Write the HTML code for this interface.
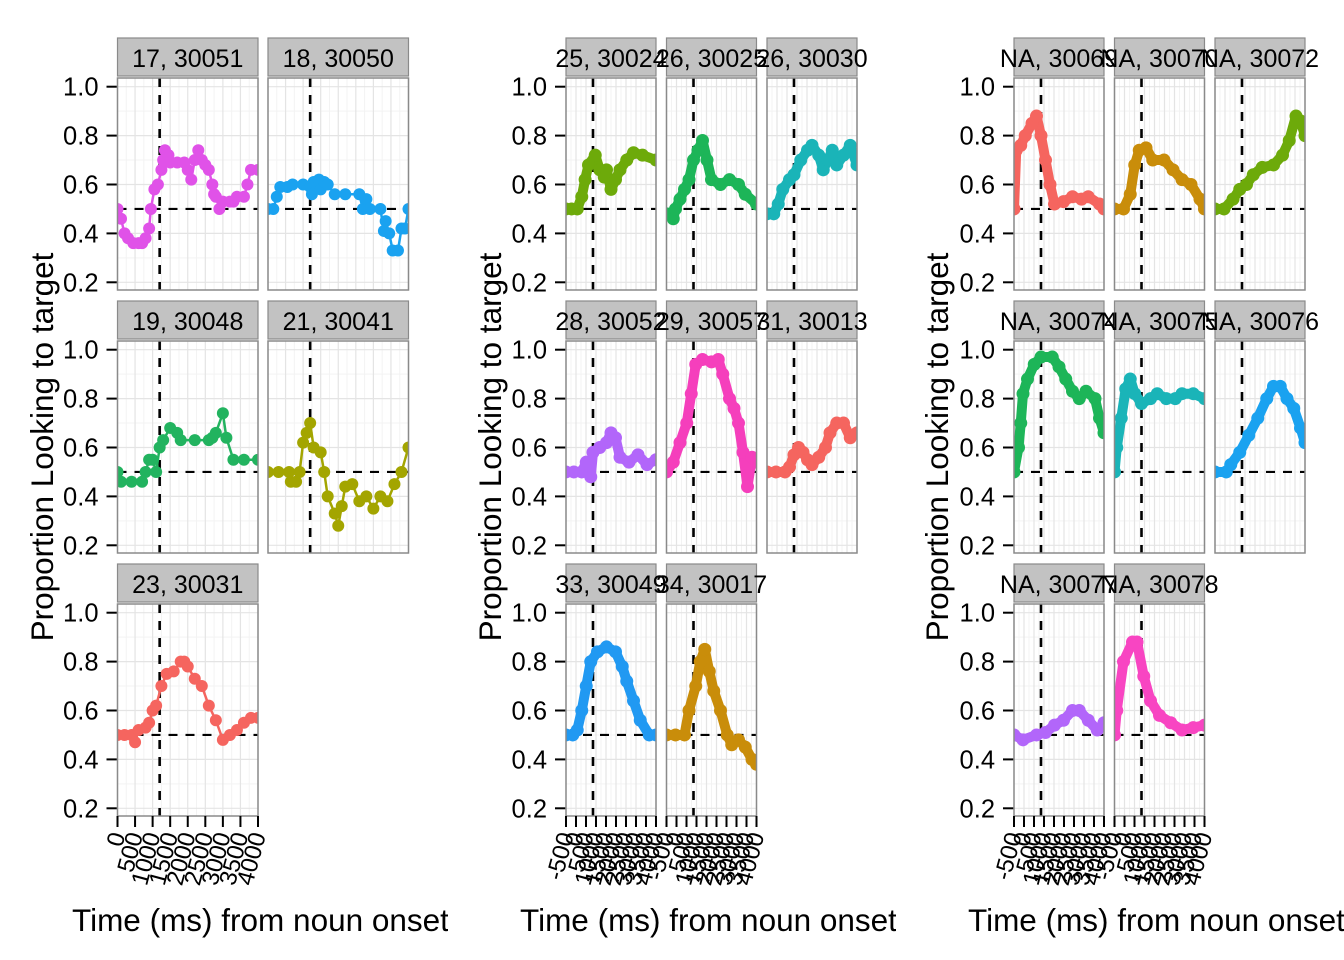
<!DOCTYPE html>
<html><head><meta charset="utf-8">
<style>
html,body{margin:0;padding:0;background:#fff;}
svg{display:block;font-family:"Liberation Sans",Arial,sans-serif;}
</style></head>
<body>
<svg id="chart" width="1344" height="960" viewBox="0 0 1344 960" xmlns="http://www.w3.org/2000/svg"></svg>
<script>
// ---- data (time in ms, proportion looking to target) ----
const panelLabels = ["17, 30051","18, 30050","19, 30048","21, 30041","23, 30031",
 "25, 30024","26, 30025","26, 30030","28, 30052","29, 30057","31, 30013","33, 30049","34, 30017",
 "NA, 30069","NA, 30070","NA, 30072","NA, 30074","NA, 30075","NA, 30076","NA, 30077","NA, 30078"];
const t01=[0,100,200,300,450,600,700,800,900,950,1050,1150,1250,1300,1350,1450,1500,1700,1900,2000,2100,2200,2300,2400,2500,2600,2700,2750,2800,2900,3000,3200,3300,3400,3600,3700,3800,4000];
const p01=[0.5,0.46,0.4,0.38,0.36,0.36,0.36,0.38,0.42,0.5,0.58,0.6,0.66,0.7,0.74,0.72,0.69,0.69,0.69,0.66,0.62,0.7,0.74,0.7,0.68,0.66,0.6,0.56,0.55,0.5,0.53,0.53,0.53,0.55,0.55,0.6,0.66,0.66];
const t02=[0,150,250,350,550,700,1000,1200,1250,1300,1450,1500,1600,1700,1900,2200,2600,2700,2800,2900,3200,3300,3350,3450,3550,3700,3800,3900,4000];
const p02=[0.5,0.5,0.55,0.59,0.59,0.6,0.6,0.59,0.56,0.61,0.62,0.58,0.61,0.6,0.56,0.56,0.56,0.5,0.54,0.5,0.5,0.41,0.45,0.4,0.33,0.33,0.42,0.42,0.5];
const t03=[0,100,400,700,800,900,1000,1100,1200,1300,1500,1700,1800,2200,2600,2700,2800,3000,3100,3300,3600,4000];
const p03=[0.5,0.46,0.46,0.46,0.5,0.55,0.55,0.5,0.6,0.63,0.68,0.66,0.63,0.63,0.63,0.64,0.66,0.74,0.64,0.55,0.55,0.55];
const t04=[0,300,600,650,800,900,1000,1100,1200,1300,1500,1600,1700,1900,2000,2100,2200,2400,2600,2800,3000,3200,3400,3600,3800,4000];
const p04=[0.5,0.5,0.5,0.46,0.46,0.5,0.62,0.66,0.7,0.6,0.58,0.5,0.4,0.33,0.28,0.36,0.44,0.45,0.38,0.4,0.35,0.4,0.38,0.45,0.5,0.6];
const t05=[0,200,400,500,600,800,900,1000,1100,1250,1400,1600,1800,1900,2000,2200,2400,2600,2800,3000,3200,3400,3600,3800,4000];
const p05=[0.5,0.5,0.5,0.47,0.52,0.53,0.55,0.6,0.62,0.7,0.75,0.76,0.8,0.8,0.78,0.73,0.7,0.62,0.56,0.48,0.5,0.52,0.55,0.57,0.57];
const t06=[0,250,500,700,850,1000,1300,1500,1700,1800,2000,2200,2400,2700,3000,3400,4000];
const p06=[0.5,0.5,0.5,0.55,0.62,0.68,0.72,0.66,0.63,0.66,0.58,0.62,0.66,0.7,0.73,0.72,0.7];
const t07=[0,300,400,600,800,1000,1200,1400,1600,1800,2000,2400,2800,3200,3500,4000];
const p07=[0.48,0.46,0.5,0.54,0.58,0.62,0.7,0.74,0.78,0.7,0.62,0.6,0.62,0.6,0.56,0.52];
const t08=[0,300,500,700,1000,1200,1500,1800,2000,2300,2500,2700,2900,3100,3400,3700,4000];
const p08=[0.48,0.48,0.52,0.58,0.62,0.64,0.7,0.74,0.76,0.72,0.66,0.7,0.74,0.68,0.72,0.76,0.68];
const t09=[0,350,700,900,1100,1200,1500,1800,2000,2200,2400,2800,3200,3600,4000];
const p09=[0.5,0.5,0.5,0.54,0.48,0.58,0.6,0.62,0.66,0.64,0.56,0.54,0.57,0.53,0.55];
const t10=[0,300,600,900,1100,1300,1600,2000,2300,2500,2800,3000,3200,3400,3600,3800,4000];
const p10=[0.5,0.54,0.62,0.7,0.82,0.94,0.96,0.95,0.96,0.9,0.8,0.76,0.7,0.58,0.44,0.56,0.54];
const t11=[0,400,800,1000,1200,1400,1600,1800,2000,2300,2600,2800,3100,3400,3700,4000];
const p11=[0.5,0.5,0.5,0.52,0.57,0.6,0.58,0.55,0.53,0.56,0.6,0.66,0.7,0.7,0.64,0.66];
const t12=[0,300,500,700,900,1100,1400,1800,2200,2500,2700,3000,3300,3700,4000];
const p12=[0.5,0.5,0.52,0.6,0.7,0.8,0.84,0.86,0.84,0.78,0.72,0.64,0.56,0.5,0.5];
const t13=[0,400,800,1000,1300,1500,1700,1900,2100,2400,2700,2900,3200,3500,3800,4000];
const p13=[0.5,0.5,0.5,0.6,0.7,0.8,0.85,0.76,0.68,0.6,0.5,0.46,0.48,0.45,0.4,0.38];
const t14=[0,100,300,500,800,1000,1200,1400,1600,1800,2200,2600,3000,3300,3800,4000];
const p14=[0.5,0.74,0.76,0.8,0.85,0.88,0.8,0.7,0.6,0.52,0.53,0.55,0.54,0.55,0.52,0.5];
const t15=[0,400,700,900,1100,1400,1700,2200,2600,3000,3400,3800,4000];
const p15=[0.5,0.5,0.56,0.68,0.74,0.75,0.7,0.7,0.66,0.62,0.6,0.54,0.5];
const t16=[0,400,800,1100,1400,1700,2100,2600,3000,3300,3600,3800,4000];
const p16=[0.5,0.5,0.54,0.58,0.6,0.64,0.67,0.68,0.72,0.78,0.88,0.86,0.8];
const t17=[0,200,300,400,600,900,1200,1700,2000,2300,2600,2900,3200,3600,3800,4000];
const p17=[0.5,0.6,0.7,0.82,0.88,0.94,0.97,0.97,0.93,0.88,0.83,0.8,0.83,0.8,0.72,0.66];
const t18=[0,100,300,500,700,900,1200,1600,1900,2300,2700,3000,3500,4000];
const p18=[0.5,0.6,0.72,0.84,0.88,0.82,0.78,0.8,0.82,0.8,0.8,0.82,0.82,0.8];
const t19=[0,500,700,1100,1500,1900,2300,2600,2900,3200,3500,3800,4000];
const p19=[0.5,0.5,0.53,0.58,0.65,0.72,0.8,0.85,0.85,0.8,0.76,0.68,0.62];
const t20=[0,400,1000,1400,1800,2200,2600,2900,3300,3700,4000];
const p20=[0.5,0.48,0.5,0.51,0.54,0.56,0.6,0.6,0.56,0.52,0.55];
const t21=[0,100,400,800,1000,1300,1600,2000,2500,3000,3500,4000];
const p21=[0.5,0.6,0.8,0.88,0.88,0.74,0.64,0.58,0.55,0.52,0.53,0.54];
const seriesT=[t01,t02,t03,t04,t05,t06,t07,t08,t09,t10,t11,t12,t13,t14,t15,t16,t17,t18,t19,t20,t21];
const seriesP=[p01,p02,p03,p04,p05,p06,p07,p08,p09,p10,p11,p12,p13,p14,p15,p16,p17,p18,p19,p20,p21];
const yTicks=[0.2,0.4,0.6,0.8,1.0];
const yTickLabels=["0.2","0.4","0.6","0.8","1.0"];
const xTicksG1=[0,500,1000,1500,2000,2500,3000,3500,4000];
const xTickLabelsG23=["-500","0","500","1000","1500","2000","2500","3000","3500","4000"];
const onsetRef=1200, chanceRef=0.5;

// ---- layout ----
const colors=["#E052E8","#1AA2F0","#22B35F","#A3A500","#F5655F","#6DAA0A","#1DB558","#1AB4B8","#B266FA","#F53FBC","#F5655F","#2199F2","#C98D0A",
 "#F5655F","#C98D0A","#6DAA0A","#1DB558","#1AB4B8","#1AA2F0","#B266FA","#F845C2"];
const groups=[
 {cols:[117.5,268],w:140.5,titleX:42,xTitleX:72,clip:448,panels:[[0,0,0],[1,0,1],[2,1,0],[3,1,1],[4,2,0]],dense:false},
 {cols:[566,666.5,767],w:90,titleX:490,xTitleX:520,clip:896,panels:[[5,0,0],[6,0,1],[7,0,2],[8,1,0],[9,1,1],[10,1,2],[11,2,0],[12,2,1]],dense:true},
 {cols:[1014,1114.5,1215],w:90,titleX:937,xTitleX:968,clip:1344,panels:[[13,0,0],[14,0,1],[15,0,2],[16,1,0],[17,1,1],[18,1,2],[19,2,0],[20,2,1]],dense:true}
];
const rowTop=[78,341,604], ph=212;
const svg=document.getElementById('chart');
const NS="http://www.w3.org/2000/svg";
function mk(tag,attrs,parent){const e=document.createElementNS(NS,tag);for(const k in attrs)e.setAttribute(k,attrs[k]);(parent||svg).appendChild(e);return e;}
function yScale(v,top){return top+8.7+(1.0-v)*244.5;}
function xScale(t,left,w){return left+(t/4000)*w;}

const defs=mk('defs',{});
groups.forEach((g,gi)=>{
  const cp=mk('clipPath',{id:'clipg'+gi},defs);
  mk('rect',{x:gi===0?0:groups[gi-1].clip,y:0,width:g.clip-(gi===0?0:groups[gi-1].clip),height:960},cp);
  rowTop.forEach((top,ri)=>{
    const left=g.cols[0];
    const ax=mk('g',{});
    
    
    yTicks.forEach((v,i)=>{
      const y=yScale(v,top);
      mk('line',{x1:left-11,x2:left,y1:y,y2:y,stroke:'#000','stroke-width':2},ax);
      const tx=mk('text',{x:left-19,y:y+9,'text-anchor':'end','font-size':25.5,fill:'#000'},ax);
      tx.textContent=yTickLabels[i];
      
      
    });
  });
  const yt=mk('text',{x:g.titleX+11,y:447,'text-anchor':'middle','font-size':31.5,transform:`rotate(-90 ${g.titleX+11} 447)`});
  yt.textContent='Proportion Looking to target';
  
  
  const xt=mk('text',{x:g.xTitleX,y:931,'font-size':31.5,'clip-path':`url(#clipg${gi})`});
  xt.textContent='Time (ms) from noun onset';
  
  

  g.panels.forEach(([si,ri,ci])=>{
    const left=g.cols[ci], w=g.w, top=rowTop[ri];
    const pg=mk('g',{});
    
    
    const cid='cp'+si;
    const c=mk('clipPath',{id:cid},defs);
    mk('rect',{x:left,y:top,width:w,height:ph},c);
    mk('rect',{x:left,y:top,width:w,height:ph,fill:'#fff'},pg);
    const nT = gi===0?9:10;
    for(let i=0;i<nT-1;i++){
      const xm=left+(i+0.5)*w/(nT-1);
      mk('line',{x1:xm,x2:xm,y1:top,y2:top+ph,stroke:'#f3f3f3','stroke-width':1},pg);
    }
    for(let v=0.3;v<1.05;v+=0.2){const y=yScale(v,top);mk('line',{x1:left,x2:left+w,y1:y,y2:y,stroke:'#f3f3f3','stroke-width':1},pg);}
    for(let i=0;i<nT;i++){
      const xg=left+i*w/(nT-1);
      mk('line',{x1:xg,x2:xg,y1:top,y2:top+ph,stroke:'#e4e4e4','stroke-width':1.2},pg);
    }
    yTicks.forEach(v=>{const y=yScale(v,top);mk('line',{x1:left,x2:left+w,y1:y,y2:y,stroke:'#e4e4e4','stroke-width':1.2},pg);});
    const xo=xScale(onsetRef,left,w), yc=yScale(chanceRef,top);
    const hl=mk('line',{x1:left,x2:left+w,y1:yc,y2:yc,stroke:'#000','stroke-width':2.2,'stroke-dasharray':'9,8'},pg);
    
    
    const vl=mk('line',{x1:xo,x2:xo,y1:top,y2:top+ph,stroke:'#000','stroke-width':2.6,'stroke-dasharray':'9,8'},pg);
    
    
    const ts=seriesT[si], ps=seriesP[si], col=colors[si];
    const sg=mk('g',{'clip-path':`url(#${cid})`},pg);
    
    
    const pts=ts.map((t,i)=>[xScale(t,left,w),yScale(ps[i],top)]);
    mk('polyline',{points:pts.map(p=>p.join(',')).join(' '),fill:'none',stroke:col,'stroke-width':g.dense?10:2.5,'stroke-linejoin':'round','stroke-linecap':'round'},sg);
    pts.forEach(p=>{
      const cc=mk('circle',{cx:p[0],cy:p[1],r:g.dense?6.5:6,fill:col},sg);
      
      
    });
    mk('rect',{x:left,y:top,width:w,height:ph,fill:'none',stroke:'#8a8a8a','stroke-width':1.5},pg);
    const st=mk('rect',{x:left,y:top-40,width:w,height:38,fill:'#c2c2c2',stroke:'#8a8a8a','stroke-width':1.2},pg);
    
    
    const stt=mk('text',{x:left+w/2,y:top-11,'text-anchor':'middle','font-size':25,fill:'#000'},pg);
    stt.textContent=panelLabels[si];
    
    
    if(ri===2){
      const xa=mk('g',{});
      
      
      for(let i=0;i<nT;i++){
        const xg=left+i*w/(nT-1), yb=top+ph;
        mk('line',{x1:xg,x2:xg,y1:yb,y2:yb+11,stroke:'#000','stroke-width':2},xa);
        const lab = gi===0?String(xTicksG1[i]):xTickLabelsG23[i];
        const tx=mk('text',{x:xg+8,y:yb+19,'text-anchor':'end','font-size':24,transform:`rotate(-75 ${xg+8} ${yb+19})`},xa);
        tx.textContent=lab;
        
        
      }
    }
  });
});
</script>
</body></html>
